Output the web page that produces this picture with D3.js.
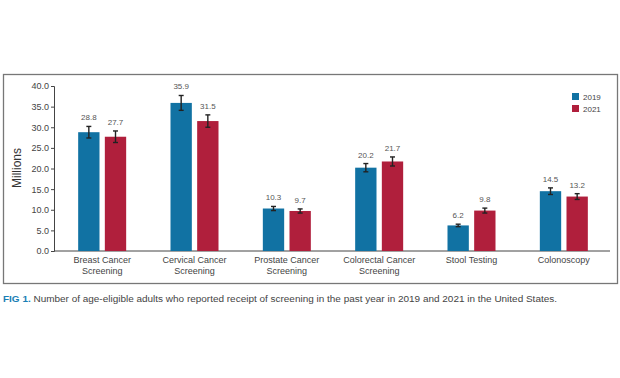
<!DOCTYPE html>
<html>
<head>
<meta charset="utf-8">
<script src="https://cdn.jsdelivr.net/npm/d3@7"></script>
<style>
  body { margin: 0; background: #fff; }
  text { font-family: "Liberation Sans", Arial, sans-serif; }
</style>
</head>
<body>
<div id="chart"></div>
<script>
let categories = [
  "Breast Cancer|Screening",
  "Cervical Cancer|Screening",
  "Prostate Cancer|Screening",
  "Colorectal Cancer|Screening",
  "Stool Testing",
  "Colonoscopy",
];
let years = ["2019", "2021"];
let values2019 = [28.8, 35.9, 10.3, 20.2, 6.2, 14.5];
let values2021 = [27.7, 31.5, 9.7, 21.7, 9.8, 13.2];
// half width of the error bars
let err2019 = [1.4, 1.8, 0.5, 1.0, 0.3, 0.8];
let err2021 = [1.4, 1.5, 0.5, 1.1, 0.6, 0.7];
let yTicks = [0, 5, 10, 15, 20, 25, 30, 35, 40];

let colors = ["#1172a3", "#b01f3c"];

let width = 620,
  height = 378;

let svg = d3
  .select("#chart")
  .append("svg")
  .attr("width", width)
  .attr("height", height);

// frame around the chart
svg
  .append("rect")
  .attr("x", 3.5)
  .attr("y", 74.5)
  .attr("width", 614)
  .attr("height", 209)
  .attr("fill", "none")
  .attr("stroke", "#777")
  .attr("stroke-width", 1.3);

let x = d3.scaleBand().domain(categories).range([56, 610]);
let x1 = d3.scaleBand().domain(years).range([-24, 24]).paddingInner(0.2);
let y = d3.scaleLinear().domain([0, 40]).range([251, 86]);

// y axis
let yAxis = svg
  .append("g")
  .attr("transform", "translate(54,0)")
  .call(
    d3
      .axisLeft(y)
      .tickValues(yTicks)
      .tickFormat(d3.format(".1f"))
      .tickSize(3)
  );
yAxis.select(".domain").attr("stroke", "#444");
yAxis.selectAll(".tick line").attr("stroke", "#444");
yAxis
  .selectAll(".tick text")
  .attr("fill", "#444")
  .attr("font-size", 9)
  .attr("x", -5)
  .style("font-family", "Liberation Sans, Arial, sans-serif");

svg
  .append("text")
  .attr("transform", "translate(21,168) rotate(-90)")
  .attr("text-anchor", "middle")
  .attr("font-size", 12)
  .attr("fill", "#333")
  .text("Millions");

// x axis line
svg
  .append("line")
  .attr("x1", 54)
  .attr("x2", 610)
  .attr("y1", y(0))
  .attr("y2", y(0))
  .attr("stroke", "#444")
  .attr("stroke-width", 1);

// category labels
categories.forEach((c) => {
  let lines = c.split("|");
  let t = svg
    .append("text")
    .attr("text-anchor", "middle")
    .attr("font-size", 9)
    .attr("fill", "#444")
    .attr("x", x(c) + x.bandwidth() / 2)
    .attr("y", 263);
  lines.forEach((l, i) =>
    t
      .append("tspan")
      .attr("x", x(c) + x.bandwidth() / 2)
      .attr("dy", i == 0 ? 0 : 11)
      .text(l)
  );
});

let series = [
  { year: "2019", values: values2019, err: err2019 },
  { year: "2021", values: values2021, err: err2021 },
];

series.forEach((s, si) => {
  categories.forEach((c, i) => {
    let cx = x(c) + x.bandwidth() / 2 + x1(s.year);
    let v = s.values[i];
    let e = s.err[i];
    svg
      .append("rect")
      .attr("x", cx)
      .attr("y", y(v))
      .attr("width", x1.bandwidth())
      .attr("height", y(0) - y(v))
      .attr("fill", colors[si]);

    let mx = cx + x1.bandwidth() / 2;
    let g = svg.append("g").attr("stroke", "#222").attr("stroke-width", 1.4);
    g.append("line")
      .attr("x1", mx)
      .attr("x2", mx)
      .attr("y1", y(v + e))
      .attr("y2", y(v - e));
    g.append("line")
      .attr("x1", mx - 2.5)
      .attr("x2", mx + 2.5)
      .attr("y1", y(v + e))
      .attr("y2", y(v + e));
    g.append("line")
      .attr("x1", mx - 2.5)
      .attr("x2", mx + 2.5)
      .attr("y1", y(v - e))
      .attr("y2", y(v - e));

    svg
      .append("text")
      .attr("x", mx)
      .attr("y", y(v + e) - 6)
      .attr("text-anchor", "middle")
      .attr("font-size", 8)
      .attr("fill", "#555")
      .text(v.toFixed(1));
  });
});

// legend
years.forEach((yr, i) => {
  svg
    .append("rect")
    .attr("x", 572)
    .attr("y", 93 + i * 12)
    .attr("width", 7)
    .attr("height", 7)
    .attr("fill", colors[i]);
  svg
    .append("text")
    .attr("x", 583)
    .attr("y", 99.5 + i * 12)
    .attr("font-size", 8)
    .attr("fill", "#444")
    .text(yr);
});

// caption
let cap = svg
  .append("text")
  .attr("x", 3)
  .attr("y", 302)
  .attr("font-size", 8.5)
  .attr("fill", "#444");
cap
  .append("tspan")
  .attr("fill", "#1a7fb5")
  .attr("font-weight", "bold")
  .text("FIG 1. ");
cap
  .append("tspan")
  .text(
    "Number of age-eligible adults who reported receipt of screening in the past year in 2019 and 2021 in the United States."
  );
cap.attr("textLength", 554).attr("lengthAdjust", "spacingAndGlyphs");
</script>
</body>
</html>
